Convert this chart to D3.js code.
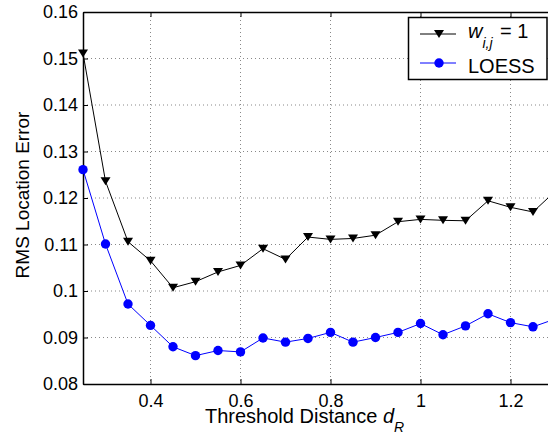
<!DOCTYPE html>
<html>
<head>
<meta charset="utf-8">
<script src="https://cdn.jsdelivr.net/npm/d3@7"></script>
<style>
  body { margin: 0; background: #fff; }
  svg { display: block; font-family: "Liberation Sans", Arial, sans-serif; }
  .grid line { stroke: #888; stroke-width: 1; stroke-dasharray: 1,3; }
</style>
</head>
<body>
<svg id="chart"></svg>
<script>
// threshold distance d_R
var thresholds = [0.25, 0.30, 0.35, 0.40, 0.45, 0.50, 0.55, 0.60, 0.65, 0.70, 0.75,
                  0.80, 0.85, 0.90, 0.95, 1.00, 1.05, 1.10, 1.15, 1.20, 1.25, 1.30]
// RMS location error, w_ij = 1
var uniformErr = [0.1511, 0.1236, 0.1106, 0.1065, 0.1007, 0.1020, 0.1041, 0.1055, 0.1091, 0.1068, 0.1116,
                  0.1111, 0.1113, 0.1120, 0.1149, 0.1154, 0.1152, 0.1151, 0.1194, 0.1180, 0.1170, 0.1215]
// RMS location error, LOESS
var loessErr = [0.1261, 0.1101, 0.0972, 0.0926, 0.0880, 0.0861, 0.0872, 0.0869, 0.0899, 0.0890, 0.0898,
                0.0911, 0.0890, 0.0900, 0.0911, 0.0930, 0.0906, 0.0925, 0.0951, 0.0932, 0.0923, 0.0940]
var xTicks = [0.4, 0.6, 0.8, 1, 1.2]
var yTicks = [0.08, 0.09, 0.10, 0.11, 0.12, 0.13, 0.14, 0.15, 0.16]

var width = 548, height = 436
var plotLeft = 83, plotTop = 12, plotBottom = 384
var fontFam = '"Liberation Sans", Arial, sans-serif'

var svg = d3.select("#chart")
    .attr("width", width)
    .attr("height", height)

// figure is cut off at the right, xlim goes a bit past 1.25
var x = d3.scaleLinear().domain([0.25, 1.5]).range([plotLeft, plotLeft + 1.25 * 450])
var y = d3.scaleLinear().domain([0.08, 0.16]).range([plotBottom, plotTop])
var plotRight = x.range()[1]
var fmt = d3.format("~g")

// dotted grid
var grid = svg.append("g").attr("class", "grid")
grid.selectAll(".gx")
    .data(xTicks)
    .enter().append("line")
    .attr("x1", d => x(d)).attr("x2", d => x(d))
    .attr("y1", plotTop).attr("y2", plotBottom)
grid.selectAll(".gy")
    .data(yTicks.slice(1, -1))
    .enter().append("line")
    .attr("x1", plotLeft).attr("x2", plotRight)
    .attr("y1", d => y(d)).attr("y2", d => y(d))

// axes, ticks pointing inward like matlab
function styleAxis(g) {
    g.attr("font-family", fontFam).attr("font-size", 18)
    g.select(".domain").attr("stroke", "#000").attr("stroke-width", 1.5)
    g.selectAll(".tick line").attr("stroke", "#000").attr("stroke-width", 1)
    g.selectAll(".tick text").attr("fill", "#000")
}

svg.append("g")
    .attr("transform", "translate(0," + plotBottom + ")")
    .call(d3.axisBottom(x).tickValues(xTicks).tickFormat(fmt).tickSizeInner(-5).tickSizeOuter(0).tickPadding(10))
    .call(styleAxis)

svg.append("g")
    .attr("transform", "translate(" + plotLeft + ",0)")
    .call(d3.axisLeft(y).tickValues(yTicks).tickFormat(fmt).tickSizeInner(-5).tickSizeOuter(0).tickPadding(5))
    .call(styleAxis)

svg.append("g")
    .attr("transform", "translate(0," + plotTop + ")")
    .call(d3.axisTop(x).tickValues(xTicks).tickFormat("").tickSizeInner(-5).tickSizeOuter(0))
    .call(styleAxis)

// lines
var line = d3.line().x(d => x(d[0])).y(d => y(d[1]))
var uniformPts = d3.zip(thresholds, uniformErr)
var loessPts = d3.zip(thresholds, loessErr)

svg.append("path")
    .datum(uniformPts)
    .attr("d", line)
    .attr("fill", "none")
    .attr("stroke", "#000")
    .attr("stroke-width", 1)

svg.append("path")
    .datum(loessPts)
    .attr("d", line)
    .attr("fill", "none")
    .attr("stroke", "#0000ff")
    .attr("stroke-width", 1)

var tri = "M-5,-4L5,-4L0,4Z"

svg.selectAll(".tri")
    .data(uniformPts)
    .enter().append("path")
    .attr("d", tri)
    .attr("transform", d => "translate(" + x(d[0]) + "," + y(d[1]) + ")")
    .attr("fill", "#000")

svg.selectAll(".dot")
    .data(loessPts)
    .enter().append("circle")
    .attr("cx", d => x(d[0]))
    .attr("cy", d => y(d[1]))
    .attr("r", 4.7)
    .attr("fill", "#0000ff")

// axis labels
var xl = svg.append("text")
    .attr("x", 205)
    .attr("y", 423)
    .style("font-size", "20px")
xl.append("tspan").text("Threshold Distance ")
xl.append("tspan").style("font-style", "italic").text("d")
xl.append("tspan").style("font-style", "italic").style("font-size", "14px").attr("dy", 9).text("R")

svg.append("text")
    .attr("transform", "translate(29,195) rotate(-90)")
    .attr("text-anchor", "middle")
    .style("font-size", "19px")
    .text("RMS Location Error")

// legend
var lg = svg.append("g")
lg.append("rect")
    .attr("x", 408.5).attr("y", 17.5)
    .attr("width", 138.5).attr("height", 62)
    .attr("fill", "#fff")
    .attr("stroke", "#000")
    .attr("stroke-width", 1.5)

lg.append("line").attr("x1", 420).attr("x2", 456).attr("y1", 34).attr("y2", 34)
    .attr("stroke", "#000")
lg.append("path").attr("d", tri).attr("transform", "translate(439,34)").attr("fill", "#000")
lg.append("line").attr("x1", 420).attr("x2", 456).attr("y1", 63).attr("y2", 63)
    .attr("stroke", "#0000ff")
lg.append("circle").attr("cx", 439).attr("cy", 63).attr("r", 4.7).attr("fill", "#0000ff")

var t1 = lg.append("text").attr("x", 468).attr("y", 38).style("font-size", "20px")
t1.append("tspan").style("font-style", "italic").text("w")
t1.append("tspan").style("font-style", "italic").style("font-size", "14px").attr("dy", 10).text("i,j")
t1.append("tspan").attr("x", 500).attr("dy", -10).text("= 1")

lg.append("text").attr("x", 468).attr("y", 73).style("font-size", "20px").text("LOESS")
</script>
</body>
</html>
